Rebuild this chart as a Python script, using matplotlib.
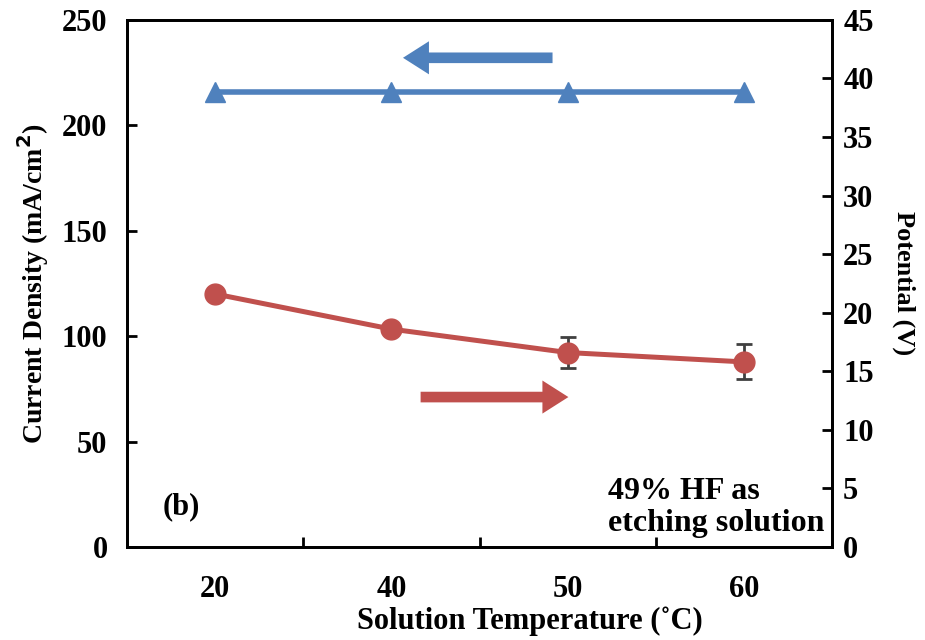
import matplotlib.pyplot as plt

plt.rcParams['font.family'] = ['Liberation Serif', 'DejaVu Serif']
plt.rcParams['font.weight'] = 'bold'

# data
temps = ['20', '40', '50', '60']
current_density = [216, 216, 216, 216]       # mA/cm2, left axis
potential = [21.6, 18.6, 16.6, 15.8]         # V, right axis
potential_err = [0, 0, 1.3, 1.5]

blue = '#4F81BD'
red = '#C0504D'

fig = plt.figure(figsize=(9.25, 6.4), dpi=100)
ax = fig.add_axes([0.1373, 0.1453, 0.7622, 0.8237])
ax2 = ax.twinx()

x = list(range(len(temps)))
ax.plot(x, current_density, color=blue, lw=4, marker='^', ms=14, zorder=3)
ax2.errorbar(x, potential, yerr=potential_err, color=red, lw=3.6, marker='o', ms=15,
             ecolor='#404040', elinewidth=2, capsize=6, capthick=2, zorder=3)

ax.set_xlim(-0.5, 3.5)
ax.set_ylim(0, 250)
ax2.set_ylim(0, 45)
ax.set_xticks(x)
ax.set_xticklabels(temps)
ax.set_xticks([0.5, 1.5, 2.5], minor=True)
ax.set_yticks(range(0, 251, 50))
ax2.set_yticks(range(0, 46, 5))

ax.tick_params(axis='x', which='major', length=0, pad=20, labelsize=22)
ax.tick_params(axis='x', which='minor', direction='in', length=7, width=2)
ax.tick_params(axis='y', direction='in', length=7, width=2, labelsize=22, pad=14)
ax2.tick_params(axis='y', direction='in', length=7, width=2, labelsize=22, pad=8)

for a in (ax, ax2):
    for s in a.spines.values():
        s.set_linewidth(2)

ax.set_xlabel('Solution Temperature (˚C)', fontsize=22, fontweight='bold')
ax.xaxis.set_label_coords(0.572, -0.112)
ax.set_ylabel('Current Density (mA/cm$^\\mathbf{2}$)', fontsize=20, fontweight='bold', labelpad=8)
ax2.set_ylabel('Potential (V)', fontsize=19, fontweight='bold', rotation=-90, labelpad=30)

# direction arrows
arrow = 'simple,head_length=1.1,head_width=1.4,tail_width=0.45'
ax.annotate('', xy=(1.05, 232), xytext=(1.93, 232),
            arrowprops=dict(arrowstyle=arrow, fc=blue, ec='none', mutation_scale=17))
ax2.annotate('', xy=(2.02, 12.8), xytext=(1.15, 12.8),
             arrowprops=dict(arrowstyle=arrow, fc=red, ec='none', mutation_scale=17))

ax.text(-0.3, 19, '(b)', fontsize=22, fontweight='bold', va='center')
ax.text(2.23, 18.7, '49% HF as\netching solution', fontsize=23, fontweight='bold',
        va='center', linespacing=1.1)

fig.savefig('out.png', dpi=100)
